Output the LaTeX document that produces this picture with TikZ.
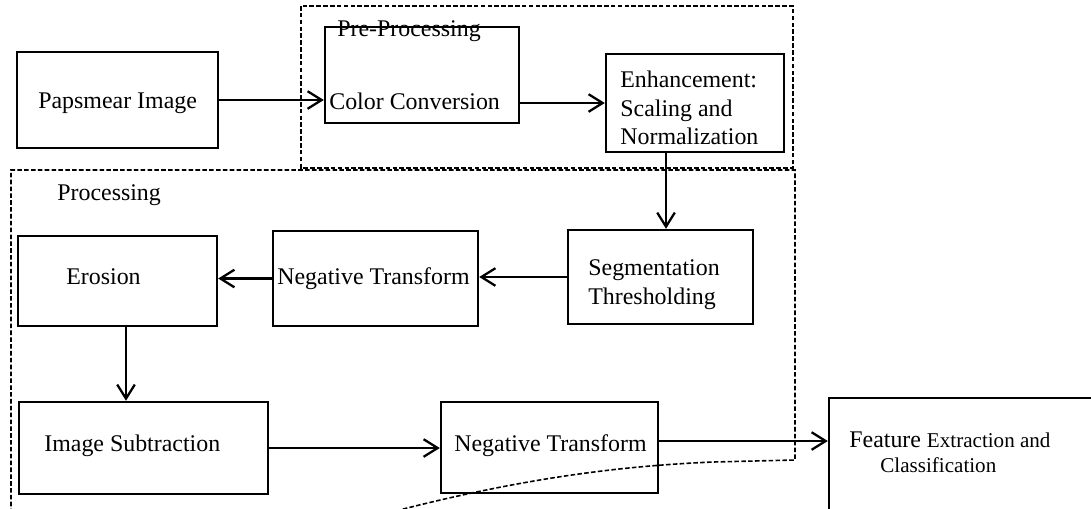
\documentclass[tikz,border=0pt]{standalone}
\usepackage{fontspec}
\setmainfont{Liberation Serif}
\usetikzlibrary{arrows.meta}

\begin{document}
\begin{tikzpicture}[x=0.02cm,y=-0.02cm,
    blk/.style={draw,line width=1.4pt,inner sep=0pt},
    txt/.style={anchor=base west,inner sep=0pt,font=\fontsize{13.6}{16.2}\selectfont},
    small/.style={anchor=base west,inner sep=0pt,font=\fontsize{12}{14}\selectfont},
    arr/.style={line width=1.3pt,-{Straight Barb[length=8pt,width=10pt]}},
    grp/.style={line width=0.9pt,dash pattern=on 2.6pt off 1.3pt}]
  \useasboundingbox (0,0) rectangle (1091,508);
  \clip (0,0) rectangle (1091,508);
  % dashed groups
  \draw[grp] (301,6) rectangle (793,168);
  \draw[grp] (11,520) -- (11,170) -- (795,170) -- (795,460) -- (713,462)
    .. controls (620,466) and (520,478) .. (380,515);
  \node[txt] (pretit) at (337,36) {Pre-Processing};
  \node[txt] (protit) at (57,200) {Processing};
  % boxes
  \node[blk,minimum width=4.02cm,minimum height=1.92cm] (pap) at (117.5,100) {};
  \node[blk,minimum width=3.88cm,minimum height=1.92cm] (col) at (422,75) {};
  \node[blk,minimum width=3.56cm,minimum height=1.96cm] (enh) at (695,103) {};
  \node[blk,minimum width=3.70cm,minimum height=1.88cm] (seg) at (660.5,277) {};
  \node[blk,minimum width=4.10cm,minimum height=1.90cm] (neg1) at (375.5,278.5) {};
  \node[blk,minimum width=3.98cm,minimum height=1.80cm] (ero) at (117.5,281) {};
  \node[blk,minimum width=4.98cm,minimum height=1.84cm] (imgsub) at (143.5,448) {};
  \node[blk,minimum width=4.34cm,minimum height=1.82cm] (neg2) at (549.5,447.5) {};
  \node[blk,minimum width=5.42cm,minimum height=2.64cm] (feat) at (964.5,464) {};
  % texts
  \node[txt] (papt) at (38,108) {Papsmear Image};
  \node[txt] (colt) at (329,109) {Color Conversion};
  \node[txt] (enht1) at (620,87) {Enhancement:};
  \node[txt] (enht2) at (620,116) {Scaling and};
  \node[txt] (enht3) at (620,144) {Normalization};
  \node[txt] (segt1) at (588,275) {Segmentation};
  \node[txt] (segt2) at (588,304) {Thresholding};
  \node[txt] (neg1t) at (277,284) {Negative Transform};
  \node[txt] (erot) at (66,284) {Erosion};
  \node[txt] (imgsubt) at (44,451) {Image Subtraction};
  \node[txt] (neg2t) at (454,451) {Negative Transform};
  \node[txt] (featt1) at (849,447) {Feature {\fontsize{12}{14}\selectfont Extraction and}};
  \node[small] (featt2) at (880,472) {Classification};
  % arrows
  \draw[arr] (pap.east) -- (pap.east -| col.west);
  \draw[arr] (col.east |- enh.west) -- (enh.west);
  \draw[arr] ([xshift=-0.58cm]enh.south) -- ([xshift=-0.58cm]enh.south |- seg.north);
  \draw[arr] (seg.west) -- (seg.west -| neg1.east);
  \draw[arr] (neg1.west) -- (neg1.west -| ero.east);
  \draw[arr] ([xshift=0.17cm]ero.south) -- ([xshift=0.17cm]ero.south |- imgsub.north);
  \draw[arr] (imgsub.east) -- (imgsub.east -| neg2.west);
  \draw[arr] ([yshift=0.13cm]neg2.east) -- ([yshift=0.13cm]neg2.east -| feat.west);
\end{tikzpicture}
\end{document}
